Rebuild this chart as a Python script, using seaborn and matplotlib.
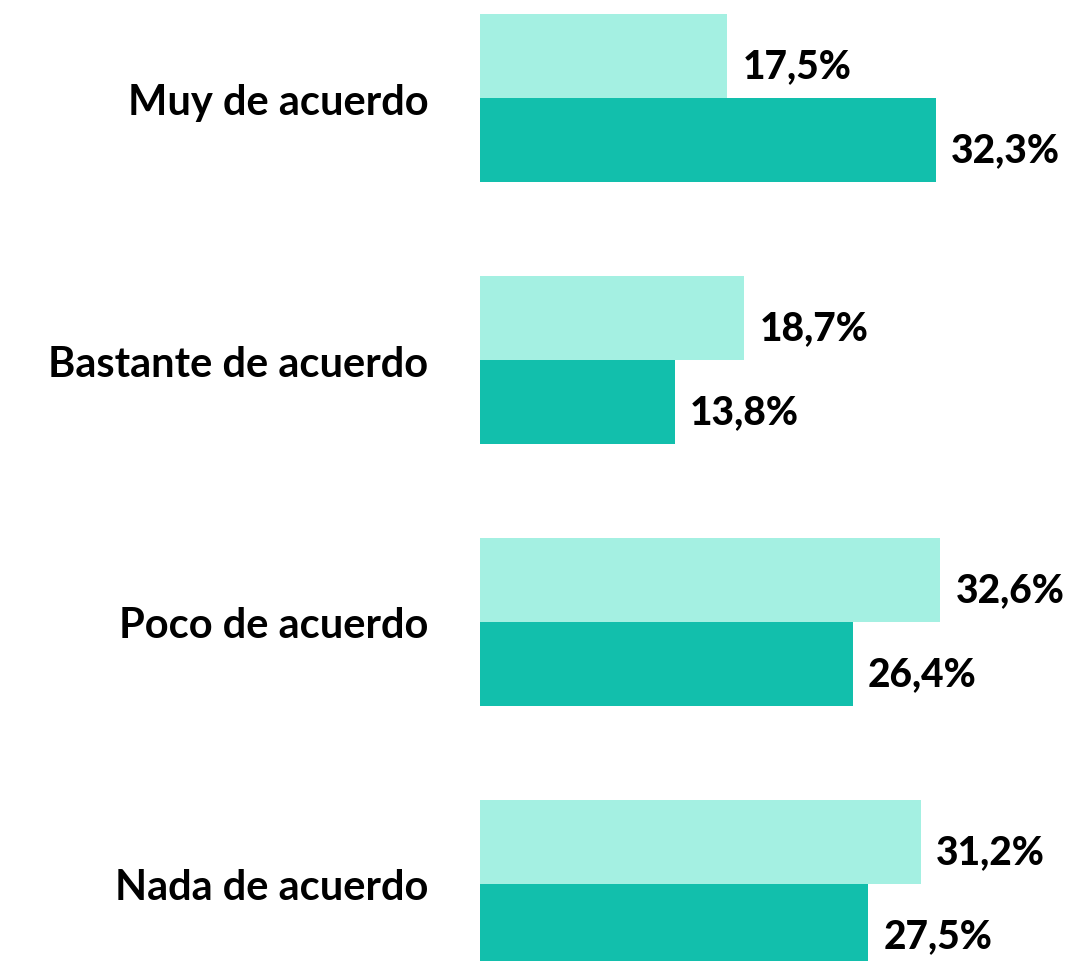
import pandas as pd
import matplotlib
matplotlib.use("Agg")
import matplotlib.pyplot as plt
import seaborn as sns

# -------------------------------
# Data
# -------------------------------
categories = ["Muy de acuerdo", "Bastante de acuerdo", "Poco de acuerdo", "Nada de acuerdo"]
series_names = ["Serie 1", "Serie 2"]
values_light = [17.5, 18.7, 32.6, 31.2]
values_dark = [32.3, 13.8, 26.4, 27.5]
colors = ["#A4F0E2", "#12BFAC"]

df = pd.DataFrame({
    "categoria": categories * 2,
    "serie": [series_names[0]] * 4 + [series_names[1]] * 4,
    "valor": values_light + values_dark,
})

# -------------------------------
# Plot
# -------------------------------
sns.set_theme(style="white")
plt.rcParams["font.family"] = ["Lato", "DejaVu Sans"]

fig = plt.figure(figsize=(10.7, 9.62), dpi=100)
ax = fig.add_axes([480 / 1070, 0, 590 / 1070, 1])

sns.barplot(data=df, y="categoria", x="valor", hue="serie", order=categories,
            hue_order=series_names, palette=colors, width=0.641,
            orient="h", saturation=1, legend=False, linewidth=0, ax=ax)

ax.set_xlim(0, 590 / 14.12)
ax.set_ylim(3.294, -0.378)
ax.set_xlabel("")
ax.set_ylabel("")
ax.set_xticks([])
ax.set_yticks(range(len(categories)))
ax.set_yticklabels(categories, fontsize=30, fontweight="bold", color="black")
ax.tick_params(axis="y", length=0, pad=37)
sns.despine(ax=ax, left=True, bottom=True)

for container in ax.containers:
    labels = [f"{v:.1f}%".replace(".", ",") for v in container.datavalues]
    texts = ax.bar_label(container, labels=labels, padding=11, fontsize=28,
                         fontweight="black", color="black")
    # bar_label offsets are in points; nudge labels a little below bar centre
    for t in texts:
        x, y = t.get_position()
        t.set_position((x, y - 7))

fig.savefig("out.png", dpi=100)
